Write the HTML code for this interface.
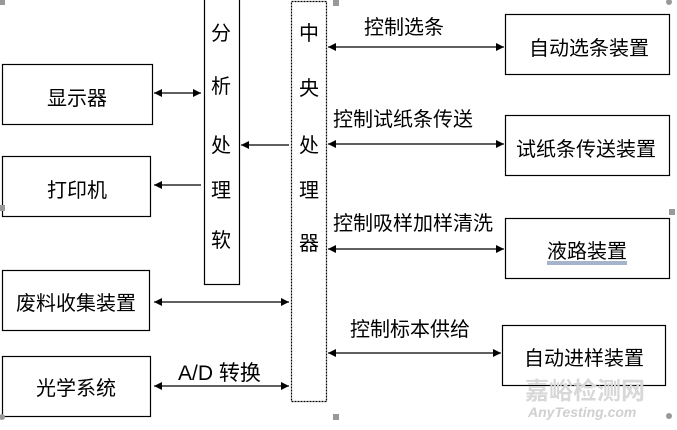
<!DOCTYPE html>
<html><head><meta charset="utf-8"><style>
html,body{margin:0;padding:0;background:#fff;width:677px;height:430px;overflow:hidden}
svg text{font-family:"Liberation Sans","Noto Sans CJK SC",sans-serif;fill:#000}
</style></head><body>
<svg width="677" height="430" viewBox="0 0 677 430" xmlns="http://www.w3.org/2000/svg">
<defs>
<marker id="a" viewBox="0 0 10 10" refX="10" refY="5" markerWidth="12" markerHeight="8" markerUnits="userSpaceOnUse" orient="auto-start-reverse"><path d="M0,0L10,5L0,10z" fill="#000"/></marker>
</defs>
<g fill="none" stroke="#000" stroke-width="1.2">
<rect x="2.5" y="64.5" width="150" height="60"/>
<rect x="2.5" y="156.5" width="148" height="60"/>
<rect x="204.5" y="-2" width="35" height="286.5"/>
<rect x="291.5" y="1.5" width="35" height="400" stroke-dasharray="2,1"/>
<rect x="2.5" y="270.5" width="147" height="60"/>
<rect x="2.5" y="356.5" width="148" height="60"/>
<rect x="505.5" y="14.5" width="164" height="60"/>
<rect x="505.5" y="115.5" width="164" height="60"/>
<rect x="505.5" y="218.5" width="164" height="60"/>
<rect x="502.5" y="325.5" width="163" height="60"/>
</g>
<g stroke="#000" stroke-width="1.3">
<line x1="154" y1="93" x2="201" y2="93" marker-start="url(#a)" marker-end="url(#a)"/>
<line x1="201" y1="185" x2="154" y2="185" marker-end="url(#a)"/>
<line x1="289" y1="145" x2="241" y2="145" marker-end="url(#a)"/>
<line x1="154" y1="302" x2="289" y2="302" marker-start="url(#a)" marker-end="url(#a)"/>
<line x1="154" y1="386" x2="289" y2="386" marker-start="url(#a)" marker-end="url(#a)"/>
<line x1="328" y1="47" x2="504" y2="47" marker-start="url(#a)" marker-end="url(#a)"/>
<line x1="328" y1="144" x2="504" y2="144" marker-start="url(#a)" marker-end="url(#a)"/>
<line x1="328" y1="249" x2="504" y2="249" marker-start="url(#a)" marker-end="url(#a)"/>
<line x1="328" y1="353" x2="501" y2="353" marker-start="url(#a)" marker-end="url(#a)"/>
</g>
<g font-size="20">
<text x="47" y="105">显示器</text>
<text x="47" y="197">打印机</text>
<text x="16" y="310">废料收集装置</text>
<text x="36" y="395">光学系统</text>
<text x="529" y="55">自动选条装置</text>
<text x="516" y="156">试纸条传送装置</text>
<text x="547" y="258">液路装置</text>
<text x="524" y="365">自动进样装置</text>
<text x="364" y="34">控制选条</text>
<text x="333" y="126">控制试纸条传送</text>
<text x="333" y="230">控制吸样加样清洗</text>
<text x="350" y="336">控制标本供给</text>
<text x="178" y="380" font-size="21">A/D  转换</text>
<g text-anchor="middle" font-size="20">
<text x="221" y="40">分</text><text x="221" y="93">析</text><text x="221" y="152">处</text><text x="221" y="197">理</text><text x="221" y="247">软</text>
<text x="309" y="40">中</text><text x="309" y="95">央</text><text x="309" y="152">处</text><text x="309" y="197">理</text><text x="309" y="250">器</text>
</g>
</g>
<line x1="547" y1="262" x2="627" y2="262" stroke="#4a6a9a" stroke-width="1"/>
<line x1="547" y1="264" x2="627" y2="264" stroke="#4a6a9a" stroke-width="1"/>
<text x="525" y="399" font-size="24" style="fill:#d8d8d8" font-weight="bold">嘉峪检测网</text>
<text x="528" y="417" font-size="14" style="fill:#d0d0d0" font-style="italic" font-weight="bold">AnyTesting.com</text>
<g fill="#999">
<rect x="0" y="0" width="5" height="5"/><rect x="333" y="0" width="6" height="6"/><rect x="333" y="414" width="6" height="6"/>
<rect x="669" y="209" width="6" height="6"/><rect x="0" y="205" width="5" height="6"/>
<circle cx="669" cy="2" r="3"/><circle cx="669" cy="416" r="3"/><circle cx="2" cy="417" r="3"/>
</g>
</svg>
</body></html>
